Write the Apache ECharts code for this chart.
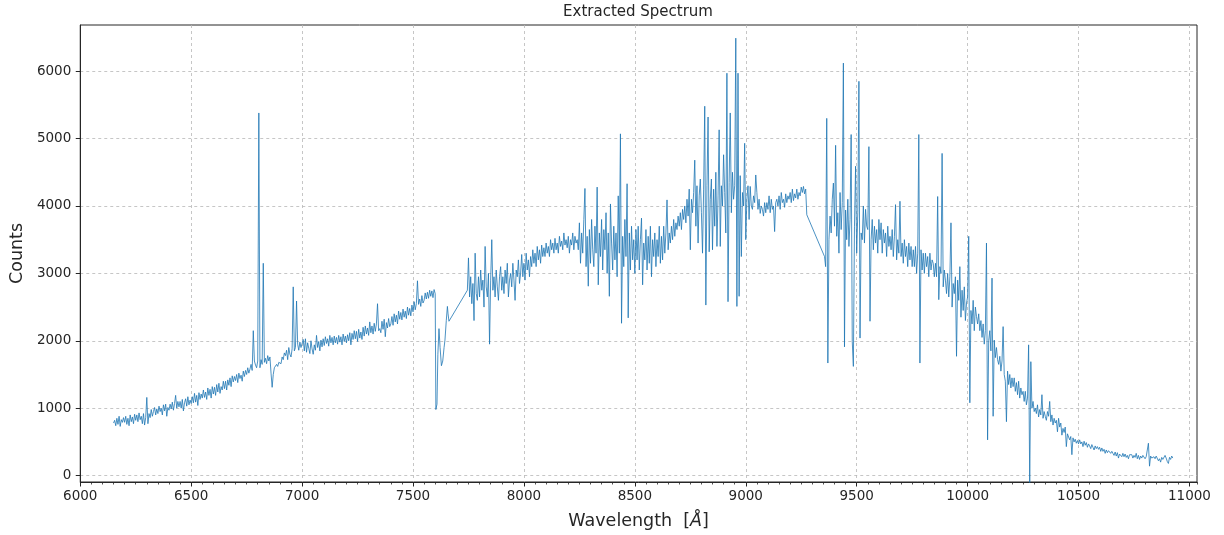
<!DOCTYPE html>
<html>
<head>
<meta charset="utf-8">
<title>Extracted Spectrum</title>
<script src="https://cdn.jsdelivr.net/npm/echarts@6/dist/echarts.min.js"></script>
<style>
  html, body { margin: 0; padding: 0; background: #ffffff; }
  #chart { width: 1224px; height: 535px; }
</style>
</head>
<body>
<div id="chart"></div>
<script>
// Extracted 1-D spectrum, sampled every 5 Å within each detector segment.
// Each segment: first wavelength (Å), sampling step (Å) and counts per sample.
const blueStart = 6150;
const blueStep = 5;
const blueCounts = [
  780,820,740,850,760,880,730,830,790,860,
  790,880,760,850,740,900,800,870,770,910,
  820,900,800,930,830,880,770,920,750,860,
  1160,770,920,860,980,880,950,1010,900,990,
  920,1030,950,1000,900,1050,960,1060,880,1010,
  970,1060,990,1090,970,1070,1190,1000,1100,1020,
  1100,1000,1130,960,1080,1140,1030,1170,1050,1120,
  1070,1170,1080,1220,1090,1190,1040,1230,1130,1210,
  1150,1270,1160,1240,1130,1300,1190,1280,1150,1320,
  1210,1310,1190,1350,1240,1370,1220,1320,1270,1400,
  1290,1400,1270,1420,1340,1450,1320,1480,1390,1470,
  1410,1500,1380,1520,1440,1490,1400,1550,1470,1560,
  1500,1600,1520,1580,1650,1560,2150,1700,1640,1600,
  1700,5380,1600,1720,1650,3150,1680,1740,1660,1780,
  1700,1760,1520,1310,1500,1600,1580,1650,1620,1680,
  1700,1660,1760,1720,1820,1780,1860,1720,1900,1800,
  1760,1880,2800,1850,1900,2590,1950,1860,1980,1900,
  1960,2020,1850,2030,1830,1970,1890,1810,2000,1880,
  1800,1940,1860,2080,1900,1990,1850,2010,1910,2030,
  1930,2060,1960,2030,1920,2080,1970,2050,1940,2070,
  1970,2050,1950,2080,1980,2060,1940,2100,1990,2070,
  1970,2090,2000,2120,1940,2110,2020,2150,2030,2140,
  1990,2170,2040,2130,2020,2200,2070,2220,2100,2190,
  2080,2280,2120,2220,2100,2260,2140,2250,2550,2150,
  2180,2120,2290,2170,2320,2060,2270,2190,2330,2210,
  2250,2360,2230,2400,2280,2380,2250,2440,2320,2420,
  2310,2470,2350,2440,2330,2500,2380,2480,2370,2530,
  2430,2580,2460,2550,2890,2540,2620,2510,2670,2560,
  2600,2710,2620,2720,2630,2750,2660,2740,2640,2760
];

// O2 A-band absorption, irregular sampling: [wavelength, counts]
const telluricBand = [
  [7600,2700],[7603,980],[7608,1060],[7612,1800],[7617,2180],[7622,1900],[7628,1630],
  [7634,1700],[7640,1900],[7644,2010],[7650,2300],[7655,2510],[7658,2400],[7662,2290]
];

const redStart = 7745;
const redStep = 5;
const redCounts = [
  2750,3230,2650,2950,2550,2850,2300,3300,2700,2600,
  2950,2650,3050,2750,2900,2500,3400,2800,2650,3000,
  1950,2900,3500,2750,2950,2650,3050,2800,2600,2950,
  3100,2750,2950,2700,3050,2850,3150,2650,2900,3000,
  2800,3150,2900,2600,3050,2950,3200,2850,3000,3280,
  2950,3150,2900,3300,3050,3200,2950,3250,3100,3350,
  3150,3300,3100,3400,3200,3350,3150,3420,3250,3380,
  3250,3450,3300,3400,3250,3500,3350,3450,3300,3520,
  3350,3450,3300,3550,3400,3480,3350,3600,3420,3500,
  3380,3550,3300,3500,3420,3600,3350,3550,3450,3500,
  3350,3750,3150,3600,3300,3800,4260,3100,3550,2810,
  3650,3150,3800,3350,3100,3700,3300,4280,2830,3600,
  3250,3800,3050,3650,3350,3900,3000,3600,2660,4030,
  3450,3050,3700,3200,3600,2950,4150,3300,5070,2260,
  3550,3100,3800,3250,4330,2340,3600,3050,3700,3200,
  3500,3000,3650,3200,3700,3050,3500,3820,2830,3450,
  3200,3650,3050,3550,3150,3700,2950,3500,3250,3600,
  3100,3500,3250,3700,3150,3550,3200,3700,3300,3600,
  4090,3350,3600,3450,3700,3500,3800,3550,3750,3650,
  3850,3700,3900,3650,3950,3800,4000,3750,4100,3850,
  4250,3350,4100,3900,4200,4680,3700,4300,3450,4150,
  4400,3900,3300,4250,5480,2530,4300,5320,3320,4100,
  4400,3350,4250,3700,4500,3400,4150,5130,3400,4300,
  4000,4760,4200,3600,5970,2580,4350,5380,3900,4500,
  4100,4300,6490,2510,5970,2660,4450,3250,4200,4000,
  4930,3500,4100,4300,3800,4290,4000,3950,4150,4050,
  4460,4200,3950,4100,3890,4000,3950,3850,4050,3900,
  4050,3950,4150,3900,4100,3950,4000,3620,4050,4100,
  4000,4150,3950,4200,4050,4100,3980,4180,4050,4150,
  4100,4200,4050,4250,4080,4180,4120,4250,4100,4200,
  4150,4280,4200,4290,4180,4250,3870
];

const nirStart = 9355;
const nirStep = 5;
const nirCounts = [
  3250,3100,5300,1670,3500,3850,3600,4100,4340,3700,
  4900,3550,3900,3300,4200,3650,4050,6120,1910,3940,
  3500,4100,3400,3800,5060,1990,1620,3700,4590,3300,
  3900,5850,2040,3600,3500,4000,3450,3950,3700,3650,
  4880,2290,3500,3800,3350,3700,3450,3650,3300,3800,
  3500,3750,3300,3650,3450,3600,3250,3700,3400,3550,
  3350,3650,3250,3550,4020,3200,3500,3300,4070,3250,
  3450,3150,3500,3250,3400,3100,3450,3200,3400,3100,
  3350,3100,3400,3000,3300,5060,1670,3350,3050,3300,
  3000,3300,3100,3250,2950,3300,3050,3200,3150,2950,
  3150,2950,4140,2610,3100,3000,4780,2800,3050,2900,
  2700,3000,2650,2950,3750,2500,2850,2700,2950,1770,
  2900,2600,3100,2350,2750,2450,2800,2300,2560,2650,
  3550,1080,2450,2250,2600,2150,2500,2360,2250,2400,
  2150,2300,2050,2250,1950,2150,3450,530,2000,2150,
  1850,2930,880,2010,1750,1900,1720,1650,1770,1550,
  1700,2210,1500,1400,800,1550,1350,1500,1300,1450,
  1320,1450,1250,1380,1200,1400,1150,1300,1200,1250,
  1100,1250,1050,1150,1940,-120,1690,1000,1100,950,
  1000,920,1050,870,980,900,1200,850,950,880,
  820,950,880,1100,800,900,750,850,780,820,
  650,850,720,780,600,700,640,720,430,620,
  600,530,580,310,560,500,540,480,520,470,
  530,470,500,430,510,450,490,420,470,440,
  400,460,420,380,440,400,430,390,420,360,
  410,360,390,330,380,340,370,350,330,360,
  330,300,350,290,340,260,320,300,280,330,
  280,320,270,300,250,310,290,310,260,300,
  270,330,250,300,240,290,260,300,280,250,
  280,300,480,140,290,260,240,280,250,290,
  280,220,250,200,270,240,230,300,260,210,
  180,270,240,290,260
];

const xTicks = [6000, 6500, 7000, 7500, 8000, 8500, 9000, 9500, 10000, 10500, 11000];
const yTicks = [0, 1000, 2000, 3000, 4000, 5000, 6000];

// pair each count with the wavelength of its sample
function sampled(start, step, counts) {
  return counts.map((c, i) => [start + i * step, c]);
}

const spectrum = [].concat(
  sampled(blueStart, blueStep, blueCounts),
  telluricBand,
  sampled(redStart, redStep, redCounts),
  sampled(nirStart, nirStep, nirCounts)
);

const FONT = 'DejaVu Sans';
const INK = '#262626';
const GRID_LINE = { show: true, lineStyle: { color: '#b8b8b8', width: 0.8, type: [3, 3] } };

const chart = echarts.init(document.getElementById('chart'), null, { renderer: 'canvas' });

chart.setOption({
  animation: false,
  backgroundColor: '#ffffff',
  title: {
    text: 'Extracted Spectrum',
    left: 633,
    top: 0,
    textAlign: 'center',
    textStyle: { fontFamily: FONT, fontSize: 15, fontWeight: 'normal', color: INK }
  },
  grid: {
    left: 79, right: 27, top: 25, bottom: 53,
    show: true, borderColor: INK, borderWidth: 1, backgroundColor: 'transparent'
  },
  xAxis: [
    {
      type: 'value',
      min: 6000, max: 11034,
      name: '{a|Wavelength  [}{b|Å}{a|]}',
      nameLocation: 'middle',
      nameGap: 30,
      nameTextStyle: {
        rich: {
          a: { fontFamily: FONT, fontSize: 17.5, color: INK },
          b: { fontFamily: FONT, fontSize: 17.5, color: INK, fontStyle: 'italic' }
        }
      },
      axisLine: { show: true, onZero: false, lineStyle: { color: INK, width: 1 } },
      axisTick: { show: true, customValues: xTicks, length: 4.5, lineStyle: { color: INK, width: 1 } },
      axisLabel: {
        customValues: xTicks,
        margin: 7,
        fontFamily: FONT, fontSize: 13.5, color: INK,
        formatter: v => String(v)
      },
      splitLine: GRID_LINE
    },
    {
      // minor ticks every 50 Å
      type: 'value',
      position: 'bottom',
      min: 6000, max: 11034, interval: 50,
      axisLine: { show: false, onZero: false },
      axisTick: { show: true, length: 2.5, lineStyle: { color: INK, width: 0.8 } },
      axisLabel: { show: false },
      splitLine: { show: false }
    }
  ],
  yAxis: {
    type: 'value',
    min: -95, max: 6685,
    name: 'Counts',
    nameLocation: 'middle',
    nameRotate: 90,
    nameGap: 52,
    nameTextStyle: { fontFamily: FONT, fontSize: 17.5, color: INK },
    axisLine: { show: true, onZero: false, lineStyle: { color: INK, width: 1 } },
    axisTick: { show: true, customValues: yTicks, length: 4.5, lineStyle: { color: INK, width: 1 } },
    axisLabel: {
      customValues: yTicks,
      margin: 9,
      fontFamily: FONT, fontSize: 13.5, color: INK,
      formatter: v => String(v)
    },
    splitLine: GRID_LINE
  },
  series: [{
    type: 'line',
    xAxisIndex: 0,
    data: spectrum,
    showSymbol: false,
    symbol: 'none',
    sampling: 'none',
    clip: true,
    lineStyle: { color: '#1f77b4', width: 1, opacity: 0.8 },
    itemStyle: { color: '#1f77b4' },
    z: 3
  }]
});
</script>
</body>
</html>
